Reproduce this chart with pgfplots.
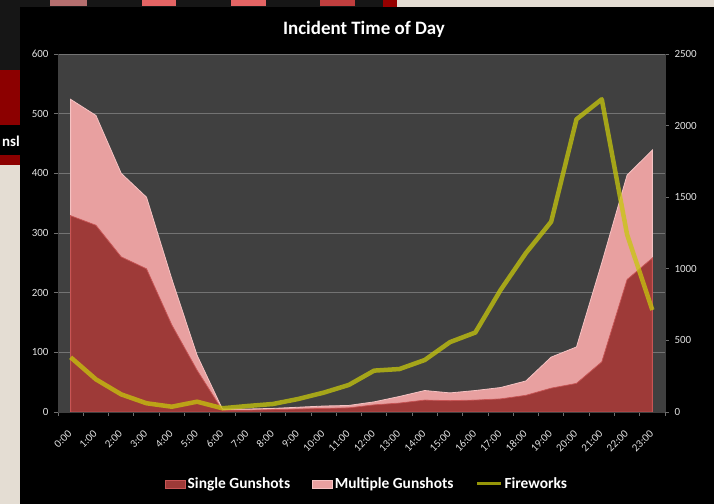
\documentclass[border=0pt]{standalone}
\usepackage{pgfplots}
\pgfplotsset{compat=1.18}
\usepackage{fontspec}
\setmainfont{Carlito}
\definecolor{bgbeige}{RGB}{228,221,211}
\definecolor{plotbg}{RGB}{64,64,64}
\definecolor{sgfill}{RGB}{158,58,56}
\definecolor{sgedge}{RGB}{200,85,85}
\definecolor{mgfill}{RGB}{232,160,160}
\definecolor{mgedge}{RGB}{245,195,195}
\definecolor{fw}{RGB}{199,199,12}
\definecolor{gridc}{RGB}{115,115,115}
\definecolor{tickc}{RGB}{110,110,110}
\definecolor{txt}{RGB}{225,225,225}
\definecolor{darkred0}{RGB}{140,0,0}
\definecolor{tabA}{RGB}{180,110,110}
\definecolor{tabB}{RGB}{228,100,100}
\definecolor{tabC}{RGB}{192,62,62}
\definecolor{tabD}{RGB}{150,0,0}
\definecolor{strip}{RGB}{22,22,22}
\begin{document}
\begin{tikzpicture}
\path[use as bounding box] (0bp,0bp) rectangle (714bp,504bp);
\begin{scope}[x=1bp,y=1bp]
% slide background
\fill[bgbeige] (0,0) rectangle (714,504);
\fill[strip] (0,504) rectangle (397,497);
\fill[strip] (0,497) rectangle (20,434);
\fill[darkred0] (0,434) rectangle (20,379);
\fill[black] (0,379) rectangle (20,349);
\fill[darkred0] (0,349) rectangle (20,339);
\node[anchor=base east, text=white, inner sep=0pt, font=\bfseries\fontsize{15}{15}\selectfont] at (20,358) {nsl};
\fill[tabA] (50,504) rectangle (87,498);
\fill[tabB] (142,504) rectangle (176,498);
\fill[tabB] (231,504) rectangle (266,498);
\fill[tabC] (320,504) rectangle (355,498);
\fill[tabD] (383,504) rectangle (397,497);
% chart panel
\fill[black] (20,0) rectangle (714,497);
\node[anchor=base, text=white, inner sep=0pt, font=\bfseries\fontsize{19}{19}\selectfont] at (364,469) {Incident Time of Day};
\end{scope}

\begin{axis}[
  at={(58bp,92bp)}, anchor=south west, scale only axis,
  width=607bp, height=358bp,
  xmin=-0.5, xmax=23.5, ymin=0, ymax=600,
  axis background/.style={fill=plotbg},
  axis y line*=left, axis x line*=bottom,
  axis line style={draw=plotbg, line width=0.8bp},
  stack plots=y,
  ytick={0,100,...,600},
  ymajorgrids, grid style={gridc, line width=0.8bp},
  xtick={0,...,23},
  xticklabels={0:00,1:00,2:00,3:00,4:00,5:00,6:00,7:00,8:00,9:00,10:00,11:00,12:00,13:00,14:00,15:00,16:00,17:00,18:00,19:00,20:00,21:00,22:00,23:00},
  minor xtick={-0.5,0.5,...,23.5},
  major tick length=4bp,
  minor tick length=4bp,
  x tick style={draw=none},
  minor x tick style={draw=tickc, line width=0.8bp},
  y tick style={draw=tickc, line width=0.8bp},
  tick align=outside,
  tick label style={text=txt, font=\fontsize{11}{11}\selectfont},
  yticklabel style={xshift=-2bp},
  xticklabel style={rotate=45, anchor=east, inner sep=1bp},
  xticklabel shift=15bp,
  /pgf/number format/assume math mode=true,
  /pgf/number format/1000 sep={},
  clip=false,
]
\addplot[fill=sgfill, draw=sgedge, line width=0.8bp] coordinates {
(0,329)(1,313)(2,260)(3,240)(4,146)(5,70)(6,3)(7,3)(8,4)(9,5)(10,6)(11,7)
(12,12)(13,15)(14,20)(15,19)(16,20)(17,22)(18,28)(19,40)(20,48)(21,84)(22,222)(23,258)} \closedcycle;
\addplot[fill=mgfill, draw=mgedge, line width=0.8bp] coordinates {
(0,195)(1,184)(2,140)(3,120)(4,77)(5,25)(6,2)(7,2)(8,2)(9,3)(10,4)(11,4)
(12,5)(13,11)(14,16)(15,13)(16,16)(17,19)(18,24)(19,52)(20,61)(21,166)(22,175)(23,181)} \closedcycle;
\end{axis}

\begin{axis}[
  at={(58bp,92bp)}, anchor=south west, scale only axis,
  width=607bp, height=358bp,
  xmin=-0.5, xmax=23.5, ymin=0, ymax=2500,
  axis y line*=right, axis x line*=bottom,
  xtick=\empty,
  axis line style={draw=plotbg, line width=0.8bp},
  ytick={0,500,...,2500},
  major tick length=4bp,
  tick align=outside,
  y tick style={draw=tickc, line width=0.8bp},
  tick label style={text=txt, font=\fontsize{11}{11}\selectfont},
  yticklabel style={xshift=2bp},
  /pgf/number format/assume math mode=true,
  /pgf/number format/1000 sep={},
  legend columns=3,
  legend style={at={(0.509,-0.201)}, anchor=center, draw=none, fill=none,
    text=white, font=\bfseries\fontsize{15.5}{15.5}\selectfont,
    /tikz/every even column/.append style={column sep=20bp}},
  clip=false,
]
\addlegendimage{legend image code/.code={\draw[fill=sgfill, draw=sgedge, line width=0.8bp] (0bp,-4bp) rectangle (20bp,4bp);}}
\addlegendentry{Single Gunshots}
\addlegendimage{legend image code/.code={\draw[fill=mgfill, draw=mgedge, line width=0.8bp] (0bp,-4bp) rectangle (20bp,4bp);}}
\addlegendentry{Multiple Gunshots}
\addplot[fw, line width=4.5bp, opacity=0.75, line join=round,
  legend image code/.code={\draw[fw, line width=3bp] (0bp,0bp) -- (24bp,0bp);}] coordinates {
(0,382)(1,228)(2,123)(3,61)(4,37)(5,72)(6,26)(7,42)(8,56)(9,91)(10,135)(11,189)
(12,289)(13,300)(14,363)(15,488)(16,555)(17,852)(18,1110)(19,1329)(20,2044)(21,2184)(22,1240)(23,712)};
\addlegendentry{Fireworks}
\end{axis}
\end{tikzpicture}
\end{document}
